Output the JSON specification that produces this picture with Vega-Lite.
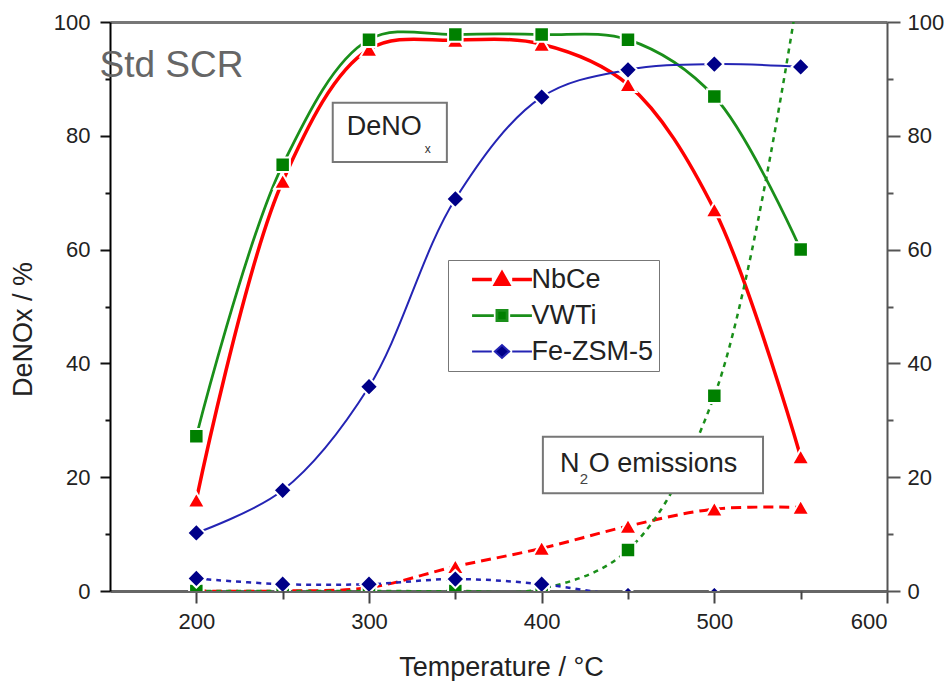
{
  "$schema": "https://vega.github.io/schema/vega-lite/v6.json",
  "width": 777,
  "height": 569,
  "autosize": {"type": "none"},
  "padding": {"left": 110, "top": 22, "right": 60, "bottom": 90},
  "background": "white",
  "config": {
    "view": {"stroke": null},
    "font": "Liberation Sans",
    "axis": {"grid": false, "labelFont": "Liberation Sans", "titleFont": "Liberation Sans", "labelFontSize": 22, "labelColor": "#222", "titleFontSize": 27, "titleFontWeight": "normal", "titleColor": "#222"},
    "legend": {"labelFont": "Liberation Sans"}
  },
  "datasets": {
    "all": [
      {"T": 200, "catalyst": "NbCe", "kind": "DeNOx", "v": 16},
      {"T": 250, "catalyst": "NbCe", "kind": "DeNOx", "v": 72},
      {"T": 300, "catalyst": "NbCe", "kind": "DeNOx", "v": 95.2},
      {"T": 350, "catalyst": "NbCe", "kind": "DeNOx", "v": 96.8},
      {"T": 400, "catalyst": "NbCe", "kind": "DeNOx", "v": 96.1},
      {"T": 450, "catalyst": "NbCe", "kind": "DeNOx", "v": 89},
      {"T": 500, "catalyst": "NbCe", "kind": "DeNOx", "v": 67},
      {"T": 550, "catalyst": "NbCe", "kind": "DeNOx", "v": 23.6},
      {"T": 200, "catalyst": "VWTi", "kind": "DeNOx", "v": 27.2},
      {"T": 250, "catalyst": "VWTi", "kind": "DeNOx", "v": 74.9},
      {"T": 300, "catalyst": "VWTi", "kind": "DeNOx", "v": 96.9},
      {"T": 350, "catalyst": "VWTi", "kind": "DeNOx", "v": 97.8},
      {"T": 400, "catalyst": "VWTi", "kind": "DeNOx", "v": 97.8},
      {"T": 450, "catalyst": "VWTi", "kind": "DeNOx", "v": 96.9},
      {"T": 500, "catalyst": "VWTi", "kind": "DeNOx", "v": 86.9},
      {"T": 550, "catalyst": "VWTi", "kind": "DeNOx", "v": 60},
      {"T": 200, "catalyst": "Fe-ZSM-5", "kind": "DeNOx", "v": 10.2},
      {"T": 250, "catalyst": "Fe-ZSM-5", "kind": "DeNOx", "v": 17.7},
      {"T": 300, "catalyst": "Fe-ZSM-5", "kind": "DeNOx", "v": 35.9},
      {"T": 350, "catalyst": "Fe-ZSM-5", "kind": "DeNOx", "v": 68.9},
      {"T": 400, "catalyst": "Fe-ZSM-5", "kind": "DeNOx", "v": 86.8},
      {"T": 450, "catalyst": "Fe-ZSM-5", "kind": "DeNOx", "v": 91.6},
      {"T": 500, "catalyst": "Fe-ZSM-5", "kind": "DeNOx", "v": 92.6},
      {"T": 550, "catalyst": "Fe-ZSM-5", "kind": "DeNOx", "v": 92.1},
      {"T": 200, "catalyst": "NbCe", "kind": "N2O", "v": 0},
      {"T": 250, "catalyst": "NbCe", "kind": "N2O", "v": 0},
      {"T": 300, "catalyst": "NbCe", "kind": "N2O", "v": 0.6},
      {"T": 350, "catalyst": "NbCe", "kind": "N2O", "v": 4.3},
      {"T": 400, "catalyst": "NbCe", "kind": "N2O", "v": 7.5},
      {"T": 450, "catalyst": "NbCe", "kind": "N2O", "v": 11.4},
      {"T": 500, "catalyst": "NbCe", "kind": "N2O", "v": 14.4},
      {"T": 550, "catalyst": "NbCe", "kind": "N2O", "v": 14.7},
      {"T": 200, "catalyst": "VWTi", "kind": "N2O", "v": 0},
      {"T": 250, "catalyst": "VWTi", "kind": "N2O", "v": 0},
      {"T": 300, "catalyst": "VWTi", "kind": "N2O", "v": 0},
      {"T": 350, "catalyst": "VWTi", "kind": "N2O", "v": 0},
      {"T": 400, "catalyst": "VWTi", "kind": "N2O", "v": 0.4},
      {"T": 450, "catalyst": "VWTi", "kind": "N2O", "v": 7.2},
      {"T": 500, "catalyst": "VWTi", "kind": "N2O", "v": 34.3},
      {"T": 550, "catalyst": "VWTi", "kind": "N2O", "v": 108},
      {"T": 200, "catalyst": "Fe-ZSM-5", "kind": "N2O", "v": 2.2},
      {"T": 250, "catalyst": "Fe-ZSM-5", "kind": "N2O", "v": 1.2},
      {"T": 300, "catalyst": "Fe-ZSM-5", "kind": "N2O", "v": 1.2},
      {"T": 350, "catalyst": "Fe-ZSM-5", "kind": "N2O", "v": 2.1},
      {"T": 400, "catalyst": "Fe-ZSM-5", "kind": "N2O", "v": 1.2},
      {"T": 450, "catalyst": "Fe-ZSM-5", "kind": "N2O", "v": -0.8},
      {"T": 500, "catalyst": "Fe-ZSM-5", "kind": "N2O", "v": -0.8}
    ],
    "boxes": [
      {"xa": 279.0, "xb": 345.1, "ya": 75.4, "yb": 85.8},
      {"xa": 400.7, "xb": 528.2, "ya": 17.2, "yb": 27.1}
    ],
    "bigtext": [
      {"x": 287.1, "y": 80.1, "t": "DeNO"},
      {"x": 410.6, "y": 20.9, "t": "N"},
      {"x": 427.2, "y": 20.9, "t": "O emissions"}
    ],
    "subx": [
      {"x": 332.3, "y": 77.0, "t": "x"}
    ],
    "sub2": [
      {"x": 422.1, "y": 18.8, "t": "2"}
    ],
    "stdscr": [
      {"x": 143.9, "y": 90.3, "t": "Std SCR"}
    ]
  },
  "layer": [
    {
      "data": {"name": "all"},
      "transform": [{"filter": {"field": "kind", "equal": "DeNOx"}}],
      "mark": {"type": "line", "interpolate": "catmull-rom"},
      "encoding": {
        "x": {"field": "T", "type": "quantitative", "scale": {"domain": [150, 600], "nice": false, "zero": false},
          "axis": {"orient": "bottom", "values": [200, 300, 400, 500, 600], "tickSize": 12, "tickWidth": 2, "tickColor": "#444", "domainColor": "#666", "domainWidth": 3, "labelPadding": 8, "title": "Temperature / °C", "titleY": 84, "titleX": 391, "titleBaseline": "alphabetic"}},
        "y": {"field": "v", "type": "quantitative", "scale": {"domain": [0, 100], "nice": false, "zero": false},
          "axis": {"orient": "left", "values": [0, 20, 40, 60, 80, 100], "tickSize": 10, "tickWidth": 2, "tickColor": "#111", "domainColor": "#000", "domainWidth": 2, "labelPadding": 10, "title": "DeNOx / %", "titleX": -87, "titleY": 307, "titleBaseline": "middle", "titleAlign": "center", "titleAngle": 270}},
        "color": {"field": "catalyst", "type": "nominal",
          "scale": {"domain": ["NbCe", "VWTi", "Fe-ZSM-5"], "range": ["#ff0000", "#1a8f1a", "#2424b4"]},
          "legend": {"orient": "none", "legendX": 338, "legendY": 238, "title": null, "symbolType": "M-4.4,0H4.4", "symbolSize": 185, "symbolStrokeWidth": 2.5, "symbolOffset": 34.5, "labelOffset": 16, "labelFontSize": 27, "labelColor": "#222", "padding": 6, "rowPadding": 8, "strokeColor": "#777", "fillColor": "white", "labelExpr": "datum.label + '\u00a0\u00a0'"}},
        "strokeWidth": {"field": "catalyst", "type": "nominal", "scale": {"domain": ["NbCe", "VWTi", "Fe-ZSM-5"], "range": [3.5, 2, 2]}, "legend": null}
      }
    },
    {
      "data": {"name": "all"},
      "transform": [{"filter": {"field": "kind", "equal": "N2O"}}, {"filter": {"field": "catalyst", "equal": "NbCe"}}],
      "mark": {"type": "line", "interpolate": "catmull-rom", "clip": true, "strokeDash": [10, 6], "strokeWidth": 3},
      "encoding": {
        "x": {"field": "T", "type": "quantitative", "scale": {"domain": [150, 600], "nice": false, "zero": false},
          "axis": {"orient": "top", "ticks": false, "labels": false, "domainColor": "#777", "domainWidth": 3, "title": null}},
        "y": {"field": "v", "type": "quantitative", "scale": {"domain": [0, 100], "nice": false, "zero": false},
          "axis": {"orient": "right", "values": [0, 20, 40, 60, 80, 100], "tickSize": 13, "tickWidth": 2, "tickColor": "#555", "domainColor": "#555", "domainWidth": 2, "labelPadding": 7, "title": null}},
        "color": {"field": "catalyst", "type": "nominal"}
      }
    },
    {
      "data": {"name": "all"},
      "transform": [{"filter": {"field": "kind", "equal": "N2O"}}, {"filter": {"field": "catalyst", "oneOf": ["VWTi", "Fe-ZSM-5"]}}],
      "mark": {"type": "line", "interpolate": "catmull-rom", "clip": true, "strokeDash": [5, 5], "strokeWidth": 2.5},
      "encoding": {
        "x": {"field": "T", "type": "quantitative", "scale": {"domain": [150, 600], "nice": false, "zero": false}, "axis": null},
        "y": {"field": "v", "type": "quantitative", "scale": {"domain": [0, 100], "nice": false, "zero": false}, "axis": null},
        "color": {"field": "catalyst", "type": "nominal"}
      }
    },
    {
      "data": {"name": "all"},
      "transform": [{"filter": {"field": "catalyst", "equal": "NbCe"}}],
      "mark": {"type": "point", "shape": "triangle-up", "size": 300, "filled": true, "fill": "#ff0000", "opacity": 1, "stroke": "white", "strokeWidth": 2, "clip": true},
      "encoding": {
        "x": {"field": "T", "type": "quantitative", "scale": {"domain": [150, 600], "nice": false, "zero": false},
          "axis": {"orient": "bottom", "values": [250, 350, 450, 550], "tickSize": 8, "tickWidth": 2, "tickColor": "#444", "labels": false, "domain": false, "title": null}},
        "y": {"field": "v", "type": "quantitative", "scale": {"domain": [0, 100], "nice": false, "zero": false},
          "axis": {"orient": "left", "values": [10, 30, 50, 70, 90], "tickSize": 5, "tickWidth": 2, "tickColor": "#111", "labels": false, "domain": false, "title": null}}
      }
    },
    {
      "data": {"name": "all"},
      "transform": [{"filter": {"field": "catalyst", "equal": "VWTi"}}],
      "mark": {"type": "point", "shape": "square", "size": 210, "filled": true, "fill": "#008000", "opacity": 1, "stroke": "white", "strokeWidth": 2, "clip": true},
      "encoding": {
        "x": {"field": "T", "type": "quantitative", "scale": {"domain": [150, 600], "nice": false, "zero": false}, "axis": null},
        "y": {"field": "v", "type": "quantitative", "scale": {"domain": [0, 100], "nice": false, "zero": false},
          "axis": {"orient": "right", "values": [10, 30, 50, 70, 90], "tickSize": 6, "tickWidth": 2, "tickColor": "#555", "labels": false, "domain": false, "title": null}}
      }
    },
    {
      "data": {"name": "all"},
      "transform": [{"filter": {"field": "catalyst", "equal": "Fe-ZSM-5"}}],
      "mark": {"type": "point", "shape": "diamond", "size": 330, "filled": true, "fill": "#000088", "opacity": 1, "stroke": "white", "strokeWidth": 2, "clip": true},
      "encoding": {
        "x": {"field": "T", "type": "quantitative", "scale": {"domain": [150, 600], "nice": false, "zero": false}, "axis": null},
        "y": {"field": "v", "type": "quantitative", "scale": {"domain": [0, 100], "nice": false, "zero": false}, "axis": null}
      }
    },
    {
      "data": {"name": "all"},
      "transform": [{"filter": "datum.T < 0"}],
      "mark": {"type": "point", "filled": true, "opacity": 1},
      "encoding": {
        "x": {"field": "T", "type": "quantitative", "scale": {"domain": [150, 600], "nice": false, "zero": false}, "axis": null},
        "y": {"field": "v", "type": "quantitative", "scale": {"domain": [0, 100], "nice": false, "zero": false}, "axis": null},
        "shape": {"field": "catalyst", "type": "nominal",
          "scale": {"domain": ["NbCe", "VWTi", "Fe-ZSM-5"], "range": [
            "M-4.4,0H-1.5M1.5,0H4.4M-0.95,0.7L0.95,0.7L0,-0.95Z",
            "M-4.4,0H-1.2M1.2,0H4.4M-0.75,-0.75H0.75V0.75H-0.75Z",
            "M-4.4,0H-1.5M1.5,0H4.4M-1.05,0L0,-0.95L1.05,0L0,0.95Z"]},
          "legend": {"orient": "none", "legendX": 338, "legendY": 238, "title": null, "symbolSize": 185, "symbolStrokeWidth": 2.5, "symbolOffset": 34.5, "labelOffset": 16, "labelFontSize": 27, "labelColor": "#222", "padding": 6, "rowPadding": 8, "strokeColor": "#777", "fillColor": "white", "labelExpr": "datum.label + '\u00a0\u00a0'"}},
        "fill": {"field": "catalyst", "type": "nominal",
          "scale": {"domain": ["NbCe", "VWTi", "Fe-ZSM-5"], "range": ["#ff0000", "#008000", "#000088"]},
          "legend": {"orient": "none", "legendX": 338, "legendY": 238, "title": null, "symbolSize": 185, "symbolStrokeWidth": 2.5, "symbolOffset": 34.5, "labelOffset": 16, "labelFontSize": 27, "labelColor": "#222", "padding": 6, "rowPadding": 8, "strokeColor": "#777", "fillColor": "white", "labelExpr": "datum.label + '\u00a0\u00a0'"}}
      }
    },
    {
      "data": {"name": "boxes"},
      "mark": {"type": "rect", "fill": "white", "stroke": "#777", "strokeWidth": 2},
      "encoding": {
        "x": {"field": "xa", "type": "quantitative", "scale": {"domain": [150, 600], "nice": false, "zero": false}, "axis": null},
        "x2": {"field": "xb"},
        "y": {"field": "ya", "type": "quantitative", "scale": {"domain": [0, 100], "nice": false, "zero": false}, "axis": null},
        "y2": {"field": "yb"}
      }
    },
    {
      "data": {"name": "bigtext"},
      "mark": {"type": "text", "align": "left", "baseline": "alphabetic", "fontSize": 27, "font": "Liberation Sans", "color": "#222"},
      "encoding": {
        "x": {"field": "x", "type": "quantitative", "scale": {"domain": [150, 600], "nice": false, "zero": false}, "axis": null},
        "y": {"field": "y", "type": "quantitative", "scale": {"domain": [0, 100], "nice": false, "zero": false}, "axis": null},
        "text": {"field": "t", "type": "nominal"}
      }
    },
    {
      "data": {"name": "subx"},
      "mark": {"type": "text", "align": "left", "baseline": "alphabetic", "fontSize": 12, "font": "Liberation Sans", "color": "#333"},
      "encoding": {
        "x": {"field": "x", "type": "quantitative", "scale": {"domain": [150, 600], "nice": false, "zero": false}, "axis": null},
        "y": {"field": "y", "type": "quantitative", "scale": {"domain": [0, 100], "nice": false, "zero": false}, "axis": null},
        "text": {"field": "t", "type": "nominal"}
      }
    },
    {
      "data": {"name": "sub2"},
      "mark": {"type": "text", "align": "left", "baseline": "alphabetic", "fontSize": 15, "font": "Liberation Sans", "color": "#444"},
      "encoding": {
        "x": {"field": "x", "type": "quantitative", "scale": {"domain": [150, 600], "nice": false, "zero": false}, "axis": null},
        "y": {"field": "y", "type": "quantitative", "scale": {"domain": [0, 100], "nice": false, "zero": false}, "axis": null},
        "text": {"field": "t", "type": "nominal"}
      }
    },
    {
      "data": {"name": "stdscr"},
      "mark": {"type": "text", "align": "left", "baseline": "alphabetic", "fontSize": 37, "font": "Liberation Sans", "color": "#666"},
      "encoding": {
        "x": {"field": "x", "type": "quantitative", "scale": {"domain": [150, 600], "nice": false, "zero": false}, "axis": null},
        "y": {"field": "y", "type": "quantitative", "scale": {"domain": [0, 100], "nice": false, "zero": false}, "axis": null},
        "text": {"field": "t", "type": "nominal"}
      }
    }
  ],
  "resolve": {
    "axis": {"x": "independent", "y": "independent"}
  }
}
